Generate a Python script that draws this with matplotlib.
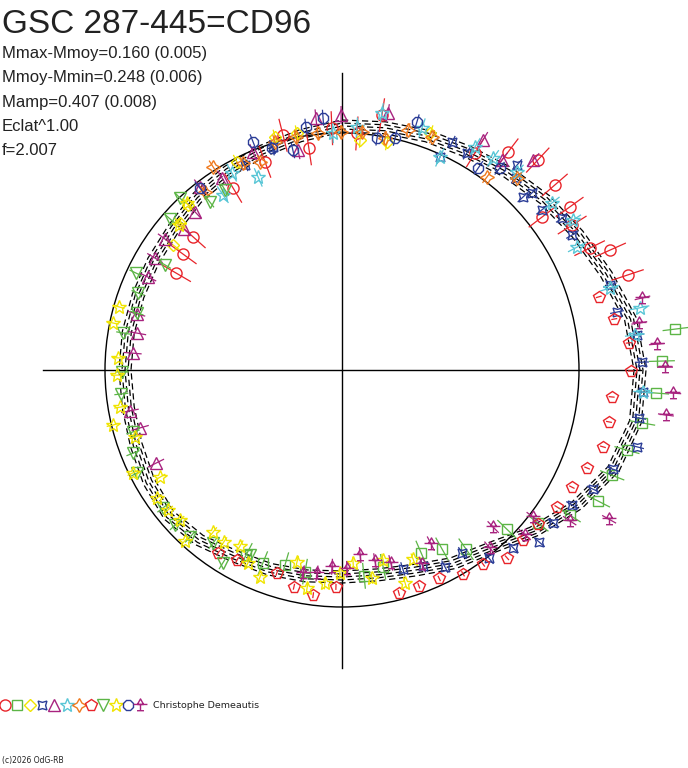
import numpy as np
import matplotlib.pyplot as plt
from matplotlib.path import Path
from matplotlib.patches import Circle
from matplotlib.collections import LineCollection

plt.rcParams['font.family'] = ['Liberation Sans', 'DejaVu Sans']

# phase given as angle in degrees (clockwise from top), radius in chart units
curve_ang = list(range(0, 360, 10))
curve_rad = [244, 246, 249, 252, 258, 265, 272, 281, 293, 298,
             298, 289, 271, 251, 232, 223, 213, 208, 207, 209,
             212, 215, 222, 226, 223, 219, 217, 217, 217, 217,
             218, 220, 225, 229, 233, 238]
ref_radius = 237

s0_ang = [300.3, 306.1, 311.8, 329.1, 339.7, 345.9, 351.5, 357.6, 3.6, 8.9,
          31.5, 37.3, 43.0, 49.0, 52.6, 54.4, 57.8, 63.8, 65.9, 71.6]
s0_rad = [192, 197, 200, 212, 222, 242, 224, 242, 237, 258,
          255, 274, 287, 282, 252, 280, 272, 276, 294, 301]

s1_ang = [83.0, 88.4, 94.2, 100.0, 105.7, 111.3, 117.1, 122.5, 128.0, 134.0,
          145.3, 150.8, 156.6, 168.2, 173.9, 190.4, 196.3, 202.3, 207.4]
s1_rad = [336, 320, 315, 305, 296, 290, 288, 270, 249, 229,
          218, 205, 199, 201, 207, 205, 203, 209, 208]

s2_ang = [349.2, 4.5, 11.2, 333.2, 344.0, 317.0, 312.2, 306.5, 20.4]
s2_rad = [241, 231, 232, 233, 242, 226, 219, 210, 253]

s3_ang = [24.7, 25.8, 29.9, 40.5, 42.2, 47.0, 46.3, 51.3, 55.4, 59.6,
          72.4, 78.1, 83.2, 88.5, 94.2, 99.2, 104.6, 110.1, 115.4, 120.4,
          125.9, 131.1, 136.1, 142.0, 146.7, 152.4, 157.5, 163.0, 342.8, 334.7]
s3_rad = [234, 253, 250, 270, 259, 260, 250, 256, 267, 267,
          281, 281, 297, 300, 302, 301, 305, 289, 278, 267,
          261, 262, 247, 239, 219, 222, 212, 208, 233, 227]

s4_ang = [285.3, 280.2, 274.6, 259.1, 254.0, 243.4, 295.6, 300.9, 306.5, 311.7,
          317.1, 322.2, 328.0, 337.8, 348.7, 354.1, 359.8, 10.1, 31.5, 37.3, 42.3]
s4_rad = [213, 208, 210, 216, 210, 208, 215, 218, 220, 212,
          216, 232, 226, 235, 224, 253, 255, 261, 270, 264, 284]

s5_ang = [325.8, 330.8, 336.5, 357.8, 3.5, 8.8, 18.3, 24.7, 30.8, 35.5,
          41.5, 51.5, 57.0, 62.4, 73.0, 78.2, 83.2, 94.2]
s5_rad = [212, 226, 210, 237, 243, 260, 255, 234, 260, 260,
          264, 268, 275, 265, 280, 304, 295, 302]

s6_ang = [322.4, 327.6, 334.4, 338.5, 343.6, 348.8, 354.2, 359.8, 4.8, 10.5,
          15.4, 21.1, 36.9, 42.3]
s6_rad = [225, 241, 229, 224, 238, 238, 238, 238, 239, 236,
          249, 250, 241, 260]

s7_ang = [74.1, 79.4, 84.6, 90.2, 95.7, 101.0, 106.4, 111.8, 117.0, 122.5,
          128.2, 133.2, 138.7, 144.0, 149.3, 155.0, 160.4, 165.7, 181.6, 187.3,
          192.5, 197.8, 208.9, 214.1]
s7_rad = [267, 277, 288, 289, 271, 272, 272, 264, 258, 255,
          249, 248, 250, 240, 237, 230, 229, 230, 217, 227,
          222, 213, 217, 221]

s8_ang = [327.0, 321.8, 316.7, 311.3, 300.7, 295.2, 290.7, 285.5, 279.6, 269.5,
          263.8, 253.5, 248.3, 243.3, 232.4, 227.1, 222.3, 216.7, 211.7, 206.4]
s8_rad = [215, 214, 236, 229, 206, 228, 218, 213, 222, 220,
          222, 218, 225, 229, 226, 228, 226, 216, 227, 207]

s9_ang = [285.8, 281.6, 273.1, 268.7, 260.5, 256.5, 252.1, 243.8, 239.5, 235.3,
          231.2, 227.2, 222.6, 218.5, 214.5, 210.1, 206.0, 201.6, 193.2, 189.1,
          184.6, 180.6, 176.7, 171.8, 167.8, 163.5, 159.4, 317.1, 311.7]
s9_rad = [232, 234, 224, 225, 225, 236, 218, 233, 211, 225,
          223, 221, 232, 207, 209, 203, 215, 223, 197, 221,
          214, 203, 193, 210, 194, 222, 202, 228, 218]

s10_ang = [322.0, 338.7, 342.5, 347.4, 351.6, 355.7, 8.6, 12.9, 16.8, 34.0, 38.0]
s10_rad = [231, 245, 233, 225, 246, 253, 235, 238, 259, 244, 256]

s11_ang = [76.5, 81.0, 85.3, 89.5, 94.0, 97.9, 119.2, 123.5, 127.6, 132.0,
           136.1, 140.3, 152.9, 157.6, 165.8, 170.2, 174.4, 178.6, 182.9, 187.0, 190.9]
s11_rad = [309, 301, 316, 323, 332, 327, 306, 273, 241, 246,
           218, 231, 195, 210, 199, 194, 186, 199, 197, 205, 207]

errors = [17, 13, 8, 7, 9, 10, 7, 3, 7, 6, 8, 8]

observer = 'Christophe Demeautis'
title = 'GSC 287-445=CD96'
stats = ['Mmax-Mmoy=0.160 (0.005)', 'Mmoy-Mmin=0.248 (0.006)',
         'Mamp=0.407 (0.008)', 'Eclat^1.00', 'f=2.007']

red = '#e8242a'
green = '#5cb546'
yellow = '#f0e400'
blue = '#2b3d97'
magenta = '#a8237f'
cyan = '#58c6d6'
orange = '#f07a1e'

rad_marker = Path(
    [(-0.45, 0.15), (0, 0.95), (0.45, 0.15), (-0.45, 0.15),
     (-1, 0.15), (1, 0.15),
     (0, 0.15), (0, -0.75),
     (-0.5, -0.75), (0.5, -0.75)],
    [Path.MOVETO, Path.LINETO, Path.LINETO, Path.LINETO,
     Path.MOVETO, Path.LINETO,
     Path.MOVETO, Path.LINETO,
     Path.MOVETO, Path.LINETO])

styles = [('o', red, 8), ('s', green, 7.5), ('D', yellow, 6.5), ((4, 1, 45), blue, 9),
          ('^', magenta, 8), ('*', cyan, 10), ((4, 1, 0), orange, 10), ('p', red, 8.5),
          ('v', green, 8), ('*', yellow, 10), ('8', blue, 8), (rad_marker, magenta, 10)]

series = [(s0_ang, s0_rad), (s1_ang, s1_rad), (s2_ang, s2_rad), (s3_ang, s3_rad),
          (s4_ang, s4_rad), (s5_ang, s5_rad), (s6_ang, s6_rad), (s7_ang, s7_rad),
          (s8_ang, s8_rad), (s9_ang, s9_rad), (s10_ang, s10_rad), (s11_ang, s11_rad)]


def to_xy(ang, rad):
    t = np.radians(np.asarray(ang, dtype=float))
    r = np.asarray(rad, dtype=float)
    return r * np.sin(t), r * np.cos(t)


fig = plt.figure(figsize=(6.88, 7.68), dpi=100)
ax = fig.add_axes([0, 0, 1, 1])
ax.set_xlim(-342, 346)
ax.set_ylim(-398, 370)
ax.axis('off')

# axes cross and reference circle
ax.plot([-299, 299], [0, 0], color='black', lw=1)
ax.plot([0, 0], [-298, 297], color='black', lw=1)
ax.add_patch(Circle((0, 0), ref_radius, fill=False, color='black', lw=1))

# fitted light curve, drawn as a band of dashed lines
ca = curve_ang + [curve_ang[0]]
cr = curve_rad + [curve_rad[0]]
for k, off in enumerate([-6, -3, 0, 3, 6]):
    x, y = to_xy(ca, np.array(cr) + off)
    ax.plot(x, y, color='black', lw=0.9, linestyle=(k * 2, (5, 3)))

# observations with radial error bars
for (ang, rad), (mk, col, ms), err in zip(series, styles, errors):
    x0, y0 = to_xy(ang, np.array(rad) - err)
    x1, y1 = to_xy(ang, np.array(rad) + err)
    segs = [[(a, b), (c, d)] for a, b, c, d in zip(x0, y0, x1, y1)]
    ax.add_collection(LineCollection(segs, colors=col, linewidths=0.9))
    x, y = to_xy(ang, rad)
    ax.plot(x, y, linestyle='none', marker=mk, ms=ms, mfc='none', mec=col, mew=1.0)

# legend row
for i, (mk, col, ms) in enumerate(styles):
    ax.plot(5 + 12.3 * i - 342, -335, marker=mk, ms=ms, mfc='none', mec=col, mew=1.0,
            clip_on=False)
fig.text(153 / 688, 1 - 705 / 768, observer, fontsize=6.8, color='#222222',
         va='center', ha='left', family='DejaVu Sans')

fig.text(2 / 688, 1 - 763 / 768, '(c)2026 OdG-RB', fontsize=5.5, color='#222222',
         va='baseline', ha='left', family='DejaVu Sans')

fig.text(2 / 688, 1 - 33 / 768, title, fontsize=24, color='#222222', va='baseline')
for i, s in enumerate(stats):
    fig.text(2 / 688, 1 - (58 + 24.3 * i) / 768, s, fontsize=12, color='#222222',
             va='baseline')

fig.savefig('out.png', dpi=100)
